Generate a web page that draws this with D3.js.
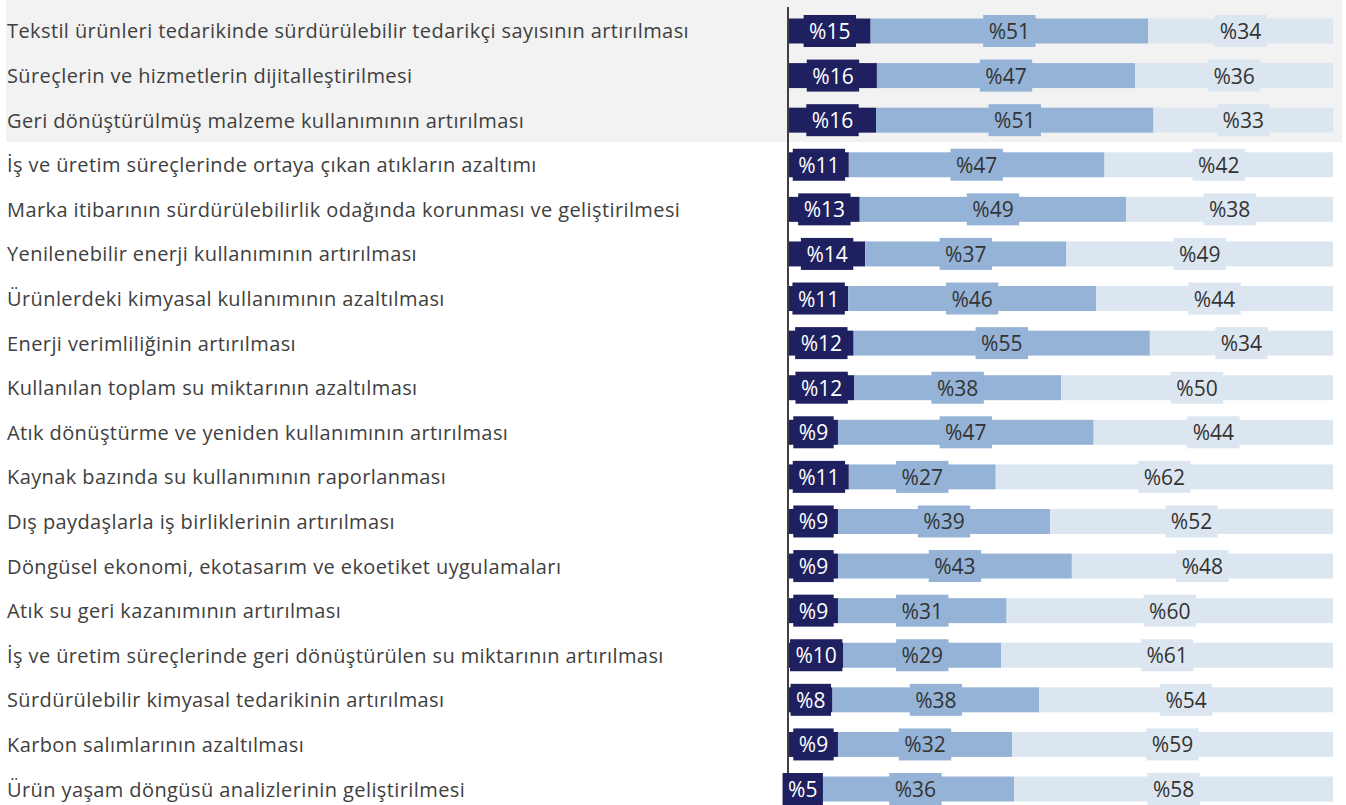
<html>
<head>
  <style>
    body { margin: 0; background: #fff; }
  </style>
</head>
<body>
<script src="https://d3js.org/d3.v7.min.js"></script>
<script>
  // categories, top to bottom
  var categories = [
    "Tekstil ürünleri tedarikinde sürdürülebilir tedarikçi sayısının artırılması",
    "Süreçlerin ve hizmetlerin dijitalleştirilmesi",
    "Geri dönüştürülmüş malzeme kullanımının artırılması",
    "İş ve üretim süreçlerinde ortaya çıkan atıkların azaltımı",
    "Marka itibarının sürdürülebilirlik odağında korunması ve geliştirilmesi",
    "Yenilenebilir enerji kullanımının artırılması",
    "Ürünlerdeki kimyasal kullanımının azaltılması",
    "Enerji verimliliğinin artırılması",
    "Kullanılan toplam su miktarının azaltılması",
    "Atık dönüştürme ve yeniden kullanımının artırılması",
    "Kaynak bazında su kullanımının raporlanması",
    "Dış paydaşlarla iş birliklerinin artırılması",
    "Döngüsel ekonomi, ekotasarım ve ekoetiket uygulamaları",
    "Atık su geri kazanımının artırılması",
    "İş ve üretim süreçlerinde geri dönüştürülen su miktarının artırılması",
    "Sürdürülebilir kimyasal tedarikinin artırılması",
    "Karbon salımlarının azaltılması",
    "Ürün yaşam döngüsü analizlerinin geliştirilmesi"
  ];

  // three series (percent)
  var seriesA = [15, 16, 16, 11, 13, 14, 11, 12, 12, 9, 11, 9, 9, 9, 10, 8, 9, 5];
  var seriesB = [51, 47, 51, 47, 49, 37, 46, 55, 38, 47, 27, 39, 43, 31, 29, 38, 32, 36];
  var seriesC = [34, 36, 33, 42, 38, 49, 44, 34, 50, 44, 62, 52, 48, 60, 61, 54, 59, 58];

  // rows highlighted with the grey band
  var highlighted = 3;

  var width = 1346;
  var height = 805;

  var keys = ["a", "b", "c"];
  var fills = { a: "#1F2060", b: "#95B3D7", c: "#DCE6F1" };
  var textFills = { a: "#ffffff", b: "#333333", c: "#333333" };

  var rows = categories.map(function(c, i) {
    return { cat: c, a: seriesA[i], b: seriesB[i], c: seriesC[i] };
  });

  var stacked = d3.stack().keys(keys).offset(d3.stackOffsetExpand)(rows);

  var svg = d3.select('body')
    .append('svg')
    .attr('width', width)
    .attr('height', height);

  var y = d3.scaleBand()
    .domain(categories)
    .range([8.7, 811.3])
    .paddingInner(0.44)
    .paddingOuter(0.22);

  var x = d3.scaleLinear().domain([0, 1]).range([789, 1333]);

  // grey highlight behind the first rows
  var step = y.step();
  svg.append('rect')
    .attr('x', 6)
    .attr('y', 0)
    .attr('width', 1342 - 6)
    .attr('height', y(categories[highlighted - 1]) + y.bandwidth() / 2 + step / 2 - 0.5)
    .attr('fill', '#F2F2F2');

  // bars
  var layer = svg.selectAll('g.layer')
    .data(stacked)
    .enter()
    .append('g')
    .attr('class', 'layer')
    .attr('fill', function(d) { return fills[d.key]; });

  layer.selectAll('rect')
    .data(function(d) { return d; })
    .enter()
    .append('rect')
    .attr('x', function(d) { return x(d[0]); })
    .attr('y', function(d) { return y(d.data.cat); })
    .attr('width', function(d) { return x(d[1]) - x(d[0]); })
    .attr('height', y.bandwidth());

  // axis line
  svg.append('line')
    .attr('x1', 788).attr('x2', 788)
    .attr('y1', 7).attr('y2', height)
    .attr('stroke', '#404040')
    .attr('stroke-width', 2);

  // data labels with boxes
  stacked.forEach(function(s) {
    s.forEach(function(d) {
      var cx = (x(d[0]) + x(d[1])) / 2;
      var cy = y(d.data.cat) + y.bandwidth() / 2;
      var g = svg.append('g');
      var box = g.append('rect').attr('fill', fills[s.key]);
      var t = g.append('text')
        .attr('x', cx)
        .attr('y', cy)
        .attr('text-anchor', 'middle')
        .attr('dominant-baseline', 'central')
        .attr('font-family', 'Open Sans')
        .style('font-size', '21px')
        .attr('fill', textFills[s.key])
        .text('%' + d.data[s.key]);
      var w = t.node().getComputedTextLength() + 11;
      box.attr('x', cx - w / 2)
        .attr('y', cy - 16)
        .attr('width', w)
        .attr('height', 32);
    });
  });

  // category labels
  svg.selectAll('text.cat')
    .data(categories)
    .enter()
    .append('text')
    .attr('class', 'cat')
    .attr('x', 7)
    .attr('y', function(d) { return y(d) + y.bandwidth() / 2; })
    .attr('dominant-baseline', 'central')
    .attr('font-family', 'Open Sans')
    .style('font-size', '20px')
    .style('letter-spacing', '0.4px')
    .attr('fill', '#404040')
    .text(function(d) { return d; });
</script>
</body>
</html>
